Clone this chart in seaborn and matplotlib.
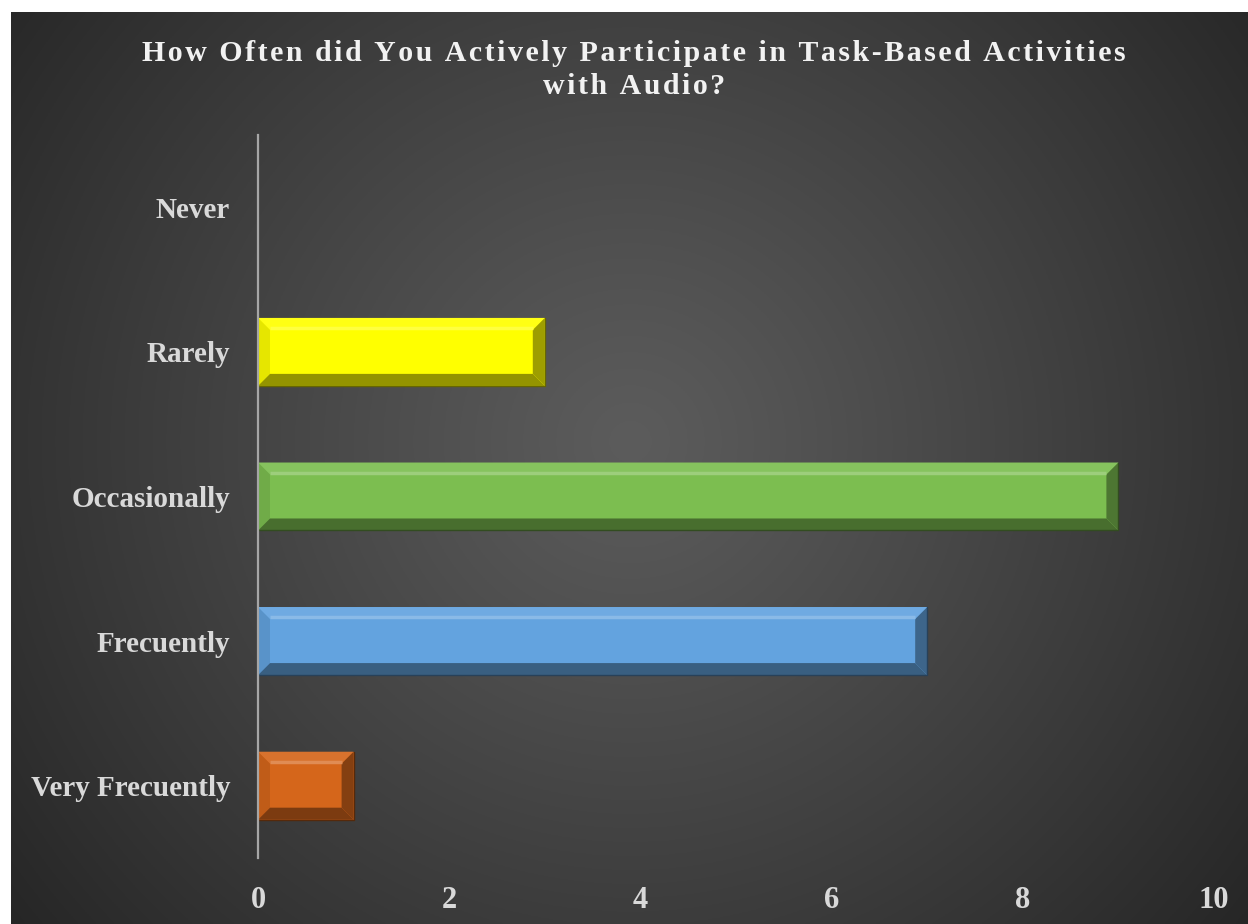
import numpy as np
import pandas as pd
import seaborn as sns
import matplotlib.pyplot as plt
import matplotlib.colors as mcolors
from matplotlib.patches import Polygon

categories = ["Never", "Rarely", "Occasionally", "Frecuently", "Very Frecuently"]
counts = [0, 3, 9, 7, 1]
bar_colors = ["#a5a5a5", "#ffff00", "#7cbe50", "#63a3df", "#d5661b"]
x_ticks = [0, 2, 4, 6, 8, 10]
title_lines = ["How Often did You Actively Participate in Task-Based Activities", "with Audio?"]

df = pd.DataFrame({"category": categories, "count": counts})

sns.set_theme(style="white")
plt.rcParams["font.family"] = ["Liberation Serif", "DejaVu Serif"]

W, H, DPI = 1248, 924, 100
fig = plt.figure(figsize=(W / DPI, H / DPI), dpi=DPI)
fig.patch.set_facecolor("white")

# dark radial-gradient chart area
bg_left, bg_top = 11 / W, 1 - 12 / H
bg = fig.add_axes([bg_left, 0, 1 - bg_left, bg_top], zorder=0)
gw, gh = 600, 450
yy, xx = np.mgrid[0:gh, 0:gw]
cx, cy = gw * 0.5, gh * 0.47
r = np.sqrt(((xx - cx) / gw) ** 2 + ((yy - cy) / gh * 0.75) ** 2) / 0.64
r = np.clip(r, 0, 1)
lum = (92 - (92 - 38) * r ** 1.1) / 255.0
bg.imshow(np.dstack([lum, lum, lum]), aspect="auto", extent=[0, 1, 0, 1], origin="upper")
bg.set_axis_off()

ax = fig.add_axes([258 / W, 66 / H, (1214 - 258) / W, (858 - 135) / H], zorder=1)
ax.patch.set_alpha(0)

sns.barplot(data=df, x="count", y="category", hue="category", palette=bar_colors,
            orient="h", width=0.47, saturation=1, legend=False, ax=ax, zorder=2,
            linewidth=0, edgecolor="none")

ax.set_xlim(0, 10)
ax.set_ylim(4.5, -0.5)
ax.set_xticks(x_ticks)
ax.set_xticklabels([str(t) for t in x_ticks])
ax.set_xlabel("")
ax.set_ylabel("")
for s in ["top", "right", "bottom"]:
    ax.spines[s].set_visible(False)
ax.spines["left"].set_color("#a6a6a6")
ax.spines["left"].set_linewidth(1.6)
ax.spines["left"].set_zorder(5)
ax.tick_params(axis="both", length=0)
ax.tick_params(axis="x", pad=20, labelsize=22, labelcolor="#d9d9d9")
ax.tick_params(axis="y", pad=20, labelsize=21, labelcolor="#d9d9d9")
for lab in ax.get_xticklabels() + ax.get_yticklabels():
    lab.set_fontweight("bold")


def mix(c, other, t):
    a = np.array(mcolors.to_rgb(c))
    b = np.array(mcolors.to_rgb(other))
    return tuple(a * (1 - t) + b * t)


# bevelled facets drawn over each bar, derived from the bar geometry
fig.canvas.draw()
inv = ax.transData.inverted()
bev = 12
for patch in list(ax.patches):
    bb = patch.get_window_extent()
    x0, x1, y0, y1 = bb.x0, bb.x1, bb.y0, bb.y1
    if x1 - x0 < 2 * bev + 2:
        continue
    base = patch.get_facecolor()
    facets = [
        ([(x0, y1), (x1, y1), (x1 - bev, y1 - bev), (x0 + bev, y1 - bev)], mix(base, "white", 0.08)),
        ([(x0, y0), (x0, y1), (x0 + bev, y1 - bev), (x0 + bev, y0 + bev)], mix(base, "black", 0.10)),
        ([(x0, y0), (x1, y0), (x1 - bev, y0 + bev), (x0 + bev, y0 + bev)], mix(base, "black", 0.42)),
        ([(x1, y0), (x1, y1), (x1 - bev, y1 - bev), (x1 - bev, y0 + bev)], mix(base, "black", 0.38)),
    ]
    for pts, col in facets:
        data_pts = inv.transform(pts)
        ax.add_patch(Polygon(data_pts, closed=True, facecolor=col, edgecolor="none", zorder=3))
    # soft highlight along the inner top edge
    hl = inv.transform([(x0 + bev, y1 - bev + 2), (x1 - bev, y1 - bev + 2)])
    ax.plot(hl[:, 0], hl[:, 1], color=mix(base, "white", 0.25), lw=2.5, zorder=4,
            solid_capstyle="butt")
    # dark outline along the bottom and right edges
    ol = inv.transform([(x0, y0), (x1, y0), (x1, y1)])
    ax.plot(ol[:, 0], ol[:, 1], color=mix(base, "black", 0.6), lw=1.0, zorder=4)

# letter-spaced title (hair spaces between glyphs)
hair = "\u200a"
spaced = "\n".join(hair.join(line) for line in title_lines)
fig.text(634 / W, 1 - 40 / H, spaced, ha="center", va="top", fontsize=21.5,
         fontweight="bold", color="#f2f2f2", linespacing=1.3,
         family=["Liberation Serif", "DejaVu Serif"])

fig.savefig("out.png", dpi=DPI)
